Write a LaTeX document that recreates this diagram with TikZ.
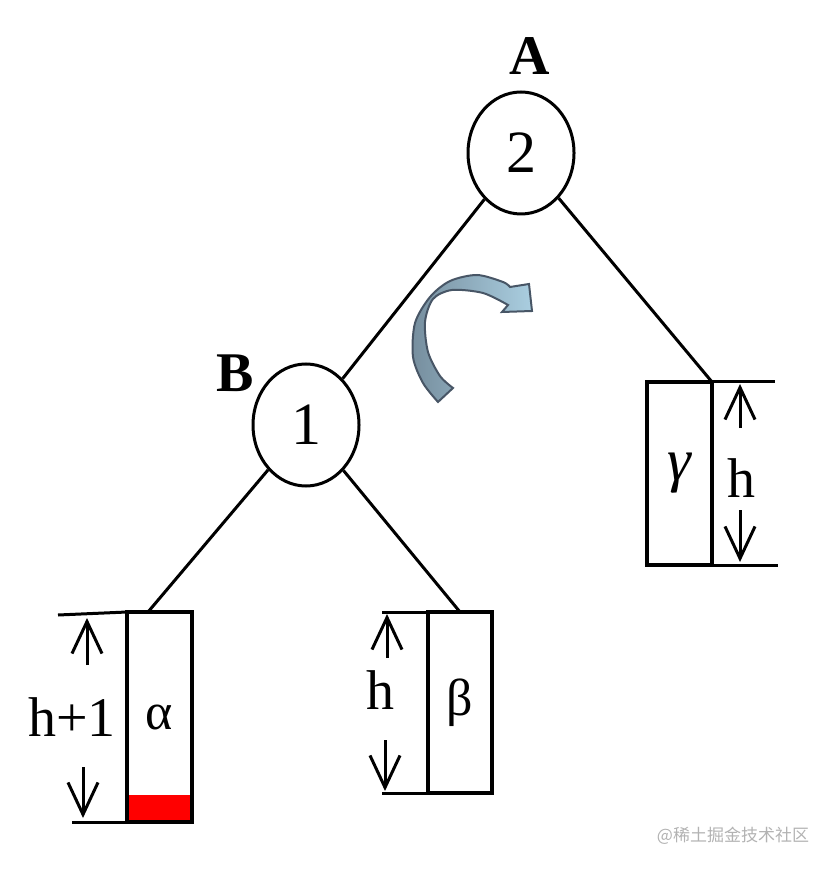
\documentclass[tikz,border=0pt]{standalone}
\usepackage{fontspec}
\setmainfont{Liberation Serif}
\newfontfamily\cjk{Noto Sans CJK SC}
\usetikzlibrary{arrows.meta, positioning, shapes.geometric}
\definecolor{arrowdark}{RGB}{118,142,158}
\definecolor{arrowlight}{RGB}{170,206,224}
\definecolor{arrowedge}{RGB}{72,86,102}

\begin{document}
\begin{tikzpicture}[x=0.5pt, y=-0.5pt,
  tnode/.style={draw, ellipse, line width=1.5pt, minimum width=53pt, minimum height=61pt, inner sep=0pt, font=\fontsize{30}{30}\selectfont},
  tlabel/.style={font=\fontsize{28}{28}\selectfont\bfseries},
  subtree/.style={draw, line width=2pt, inner sep=0pt, outer sep=0pt, font=\fontsize{26}{26}\selectfont},
  edge/.style={line width=1.5pt},
  dimline/.style={line width=1.5pt},
  dimarrow/.style={-{Straight Barb[length=16pt, width=15pt]}, line width=1.5pt},
  dimtext/.style={font=\fontsize{28}{28}\selectfont},
  rotarrow/.style={draw=arrowedge, line width=1pt, left color=arrowdark, right color=arrowlight}]

\useasboundingbox (0,0) rectangle (836,870);

% nodes of the tree
\node[tnode] (A) at (521,153) {2};
\node[tnode] (B) at (306,425) {1};
\node[tlabel] (labA) at (530,56) {A};
\node[tlabel] (labB) at (235,373) {B};

% subtrees
\node[subtree, draw=none, minimum width=32.5pt, minimum height=105pt] (alphabg) at (159.5,717) {};
\fill[red] (alphabg.south west) rectangle ([yshift=13.5pt]alphabg.south east);
\node[subtree, minimum width=32.5pt, minimum height=105pt] (alpha) at (159.5,717) {α};
\node[subtree, minimum width=32pt, minimum height=90.5pt] (beta) at (460,702.5) {\raisebox{-6pt}{β}};
\node[subtree, minimum width=32.5pt, minimum height=91.5pt] (gamma) at (679.5,473.5) {\raisebox{-5pt}{\fontsize{30}{30}\selectfont\itshape γ}};

% edges
\draw[edge] (A) -- (B);
\draw[edge] (A) -- (gamma.north east);
\draw[edge] (B) -- ([xshift=10.5pt]alpha.north west);
\draw[edge] (B) -- (beta.north);

% heights
\coordinate (aTop) at (58,615);
\coordinate (aBot) at (72,822);
\draw[dimline] (aTop) -- (alpha.north west);
\draw[dimline] (aBot) -- (alpha.south west);
\coordinate (aUp0) at (87,665);
\coordinate (aUp1) at (87,618);
\coordinate (aDn0) at (83,767);
\coordinate (aDn1) at (83,818);
\draw[dimarrow] (aUp0) -- (aUp1);
\draw[dimarrow] (aDn0) -- (aDn1);
\node[dimtext] (hA) at (72,717) {h+1};

\coordinate (bTop) at (382,612);
\coordinate (bBot) at (382,793);
\draw[dimline] (bTop) -- (beta.north west);
\draw[dimline] (bBot) -- (beta.south west);
\coordinate (bUp0) at (387,658);
\coordinate (bUp1) at (387,614);
\coordinate (bDn0) at (385,740);
\coordinate (bDn1) at (385,791);
\draw[dimarrow] (bUp0) -- (bUp1);
\draw[dimarrow] (bDn0) -- (bDn1);
\node[dimtext] (hB) at (380,690) {h};

\coordinate (gTop) at (775,382);
\coordinate (gBot) at (778,565);
\draw[dimline] (gamma.north east) -- (gTop);
\draw[dimline] (gamma.south east) -- (gBot);
\coordinate (gUp0) at (740,428);
\coordinate (gUp1) at (740,384);
\coordinate (gDn0) at (740,510);
\coordinate (gDn1) at (740,562);
\draw[dimarrow] (gUp0) -- (gUp1);
\draw[dimarrow] (gDn0) -- (gDn1);
\node[dimtext] (hG) at (741,478) {h};

% rotation arrow
\path[rotarrow] plot[smooth] coordinates {(438,402) (423,383) (413,357) (415,323) (430,297) (450,281) (477,275) (503,282) (510,287)}
  -- (529,284) -- (532,311) -- (502,312)
  -- plot[smooth] coordinates {(508,305) (483,293) (452,290) (433,299) (425,322) (428,352) (440,376) (453,388)} -- cycle;

\node[text=black!30, font=\cjk\fontsize{8.5}{8.5}\selectfont] (mark) at (733,836) {@稀土掘金技术社区};

\end{tikzpicture}
\end{document}
